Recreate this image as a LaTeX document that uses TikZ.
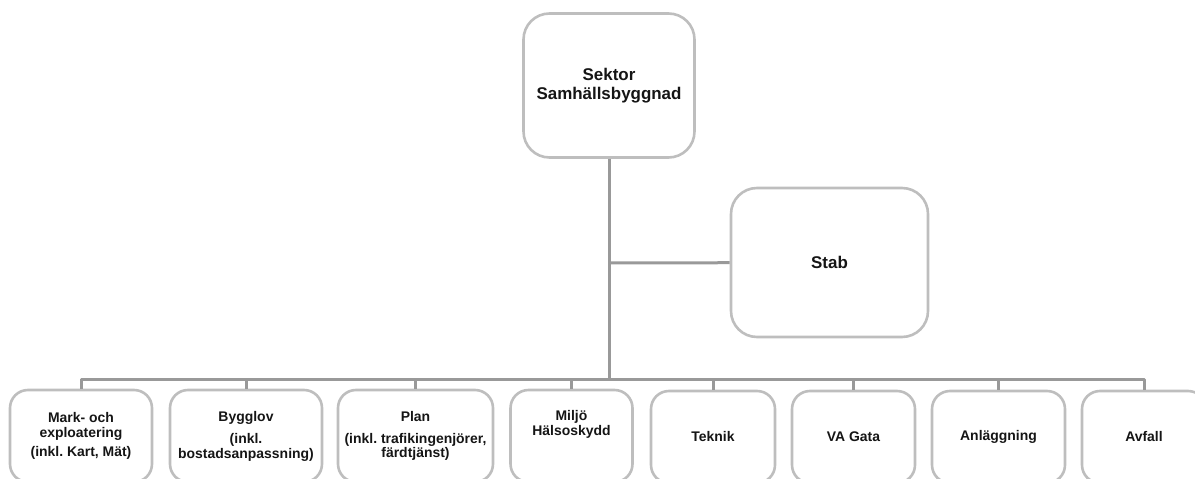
\documentclass[tikz,border=0pt]{standalone}
\usepackage{fontspec}
\setmainfont{Liberation Sans}
\usepackage{tikz}
\usetikzlibrary{positioning}
\frenchspacing
\definecolor{linecol}{HTML}{999999}
\definecolor{boxcol}{HTML}{BEBEBE}
\definecolor{textcol}{HTML}{151515}
\tikzset{
  bigbox/.style={draw=boxcol, line width=2.6bp, rounded corners=26bp, fill=white,
    text=textcol, align=center, font=\fontsize{17}{19}\selectfont\bfseries,
    inner sep=0pt},
  unitbox/.style={draw=boxcol, line width=2.6bp, rounded corners=18bp, fill=white,
    text=textcol, align=center, font=\fontsize{14}{14.5}\selectfont\bfseries,
    inner sep=0pt, minimum height=92bp},
  conn/.style={draw=linecol, line width=3bp}
}
\begin{document}
\begin{tikzpicture}[line join=bevel,]
%%
\useasboundingbox (0bp,0bp) rectangle (1195bp,479bp);
\clip (0bp,0bp) rectangle (1195bp,479bp);
%% chef and stab
\node (sektor) at (609.0bp,393.5bp) [bigbox,minimum width=171bp,minimum height=144bp] {Sektor\\Samhällsbyggnad};
  \node (stab) at (829.5bp,216.5bp) [bigbox,minimum width=197bp,minimum height=149bp] {Stab};
%% units
\node (mark) at (81.0bp,43.0bp) [unitbox,minimum width=142bp] {Mark- och\\exploatering\\[5bp](inkl. Kart, Mät)};
  \node (bygglov) at (246.0bp,43.0bp) [unitbox,minimum width=152bp] {Bygglov\\[8bp](inkl.\\bostadsanpassning)};
  \node (plan) at (415.5bp,43.0bp) [unitbox,minimum width=155bp] {Plan\\[7bp](inkl. trafikingenjörer,\\färdtjänst)};
  \node (miljo) at (571.5bp,43.0bp) [unitbox,minimum width=122bp] {Miljö\\Hälsoskydd\\[12bp]\mbox{}};
  \node (teknik) at (713.0bp,42.0bp) [unitbox,minimum width=124bp] {Teknik};
  \node (vagata) at (853.5bp,42.0bp) [unitbox,minimum width=123bp] {VA Gata};
  \node (anlaggning) at (998.5bp,42.0bp) [unitbox,minimum width=133bp] {Anläggning};
  \node (avfall) at (1144.0bp,42.0bp) [unitbox,minimum width=124bp] {Avfall};
%% lines
\coordinate (stabjoin) at (609.0bp,216.0bp);
  \coordinate (bus) at (609.0bp,99.0bp);
  \draw [conn] (sektor) -- (bus);
  \draw [conn] (stabjoin) -- (stab);
  \foreach \unit in {mark,bygglov,plan,miljo,teknik,vagata,anlaggning,avfall}
    \draw [conn] (bus) -| (\unit.north);
%
\end{tikzpicture}
\end{document}
